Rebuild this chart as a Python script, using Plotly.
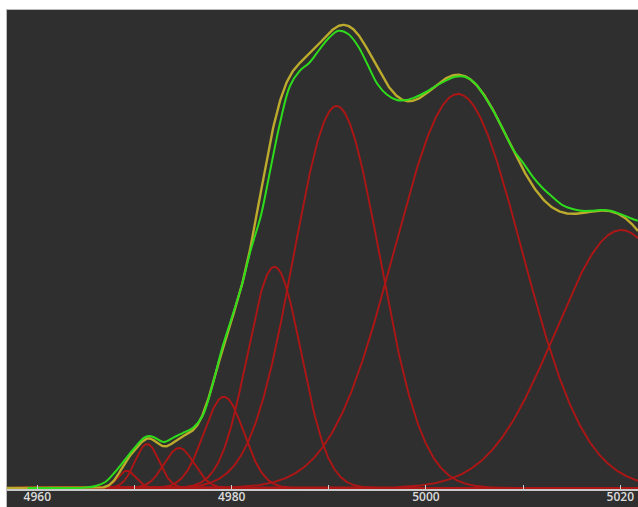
import numpy as np
import plotly.graph_objects as go

# Measured spectrum (green dots)
energy = [4959, 4960, 4961, 4962, 4963, 4964, 4965, 4966, 4967, 4968, 4969, 4970,
          4971, 4971.5, 4972, 4973, 4974, 4975, 4976, 4977, 4978, 4979, 4980, 4981,
          4982, 4983, 4984, 4985, 4986, 4987, 4988, 4989, 4990, 4991, 4992, 4993,
          4994, 4995, 4996, 4997, 4998, 4999, 5000, 5001, 5002, 5003, 5004, 5005,
          5006, 5007, 5008, 5009, 5010, 5011, 5012, 5013, 5014, 5015, 5016, 5017,
          5018, 5019, 5020, 5021, 5021.8]
absorbance = [0.000, 0.000, 0.000, 0.000, 0.000, 0.000, 0.001, 0.005, 0.015, 0.040, 0.070, 0.100,
              0.126, 0.130, 0.127, 0.115, 0.126, 0.138, 0.150, 0.180, 0.255, 0.348, 0.425, 0.503,
              0.598, 0.680, 0.798, 0.915, 1.005, 1.043, 1.063, 1.095, 1.125, 1.143, 1.135, 1.105,
              1.058, 1.010, 0.983, 0.970, 0.970, 0.978, 0.990, 1.005, 1.018, 1.028, 1.028, 1.013,
              0.980, 0.940, 0.893, 0.845, 0.813, 0.778, 0.750, 0.728, 0.708, 0.698, 0.693, 0.693,
              0.695, 0.693, 0.685, 0.675, 0.668]

# Fitted Gaussian components (red)
peak_centers = [4969.2, 4971.3, 4974.6, 4979.2, 4984.4, 4990.8, 5003.3, 5020.1]
peak_heights = [0.043, 0.110, 0.100, 0.228, 0.553, 0.955, 0.985, 0.645]
peak_sigmas = [0.93, 1.24, 1.54, 2.06, 2.78, 4.43, 6.54, 6.79]

tick_values = [4960, 4970, 4980, 4990, 5000, 5010, 5020]
tick_labels = ["4960", "", "4980", "", "5000", "", "5020"]

x_range = [4956.88, 5021.82]
xs = np.linspace(x_range[0], x_range[1], 900)

fig = go.Figure()
total = np.zeros_like(xs)
for c, h, s in zip(peak_centers, peak_heights, peak_sigmas):
    comp = h * np.exp(-((xs - c) ** 2) / (2 * s * s))
    total += comp
    fig.add_trace(go.Scatter(x=xs, y=comp, mode="lines",
                             line=dict(color="#ae1616", width=1.9),
                             hoverinfo="skip", showlegend=False))

fig.add_trace(go.Scatter(x=xs, y=total, mode="lines",
                         line=dict(color="#bcab2c", width=2.4),
                         showlegend=False))
fig.add_trace(go.Scatter(x=energy, y=absorbance, mode="lines",
                         line=dict(color="#2edc1c", width=2, shape="spline"),
                         showlegend=False))

fig.update_layout(
    width=638, height=507,
    margin=dict(l=7, r=0, t=9, b=18),
    paper_bgcolor="white",
    plot_bgcolor="rgba(0,0,0,0)",
    showlegend=False,
    shapes=[dict(type="rect", xref="paper", yref="paper",
                 x0=-0.0008, x1=1.02, y0=-0.08, y1=0.999,
                 fillcolor="#2f2f2f", line=dict(color="#bdbdbd", width=1),
                 layer="below")],
    xaxis=dict(range=x_range, showgrid=False, zeroline=False, automargin=False,
               showline=True, linecolor="#c8c8c8", linewidth=2,
               ticks="inside", ticklen=4, tickwidth=1, tickcolor="#d0d0d0",
               tickvals=tick_values, ticktext=tick_labels, ticklabelstandoff=-4,
               tickfont=dict(family="Open Sans", size=12, color="#dcdcdc", weight=600)),
    yaxis=dict(range=[-0.0025, 1.1975], showgrid=False, zeroline=False, automargin=False,
               showticklabels=False, showline=False, ticks=""),
)

fig.write_html("out.html")
